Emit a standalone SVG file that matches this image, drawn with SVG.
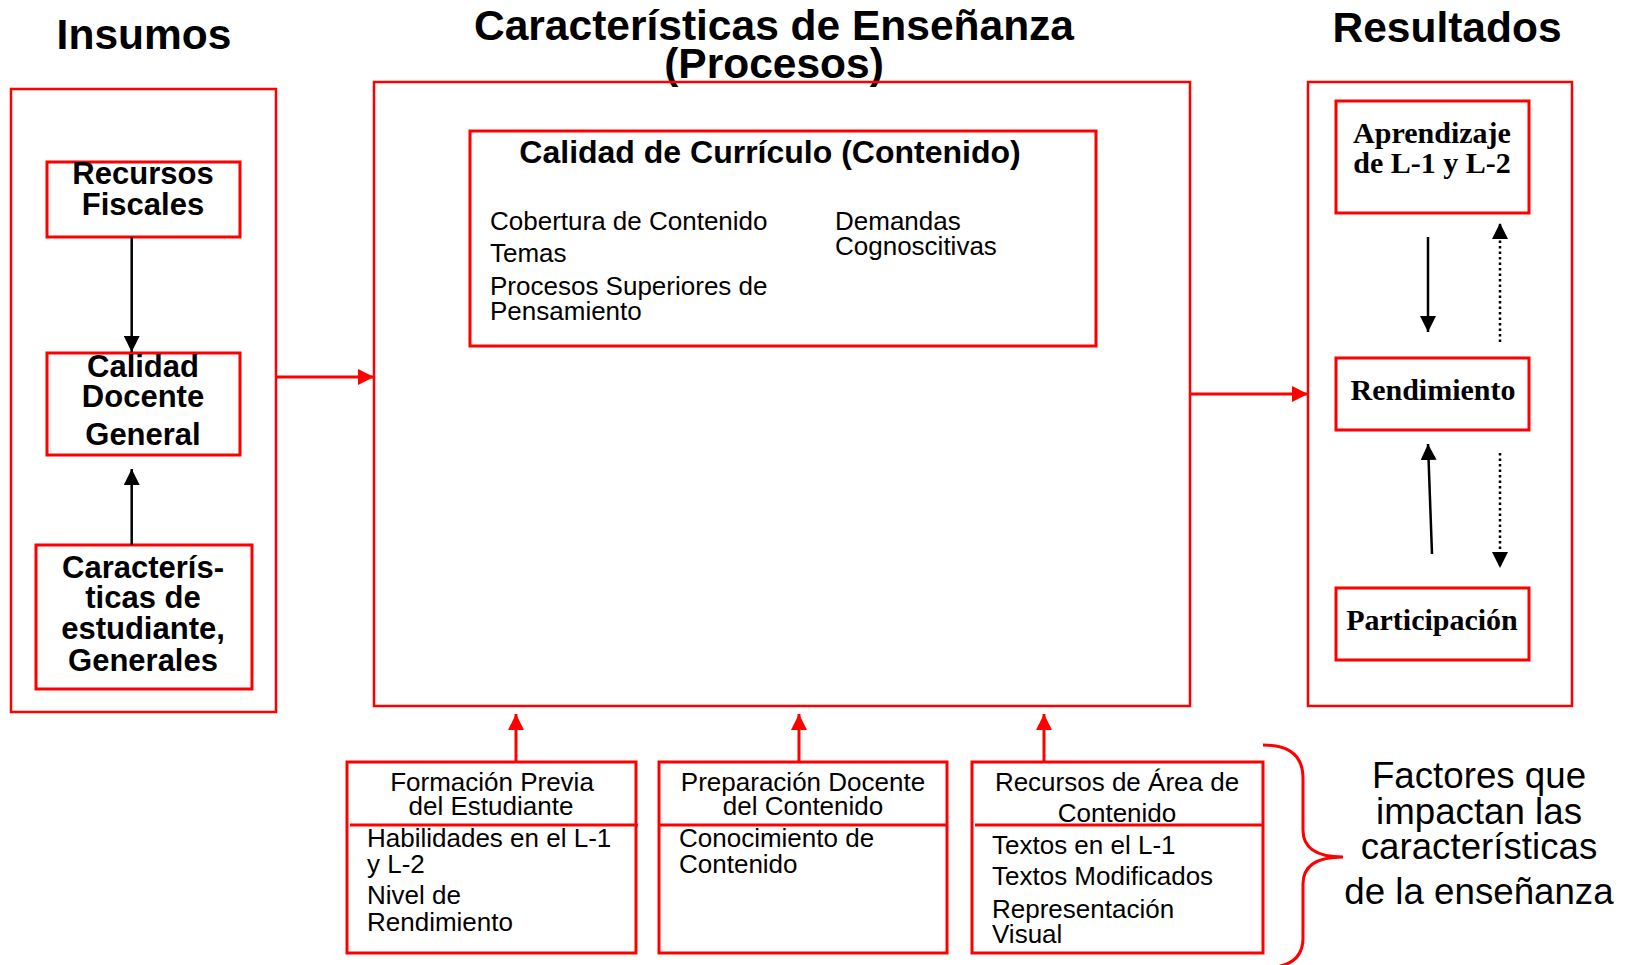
<svg xmlns="http://www.w3.org/2000/svg" width="1627" height="965" viewBox="0 0 1627 965">
<defs>
<style>
.box{fill:none;stroke:#FF0000;stroke-width:3}
.outer{fill:none;stroke:#FF0000;stroke-width:2.5}
.div{stroke:#FF0000;stroke-width:3}
text{font-family:"Liberation Sans",Arial,sans-serif;fill:#000}
.title{font-size:42.5px;font-weight:bold;text-anchor:middle}
.hb{font-size:31px;font-weight:bold;text-anchor:middle}
.body{font-size:26px}
.mid{text-anchor:middle}
.serif{font-family:"Liberation Serif","Times New Roman",serif;font-size:30px;font-weight:bold;text-anchor:middle}
.fact{font-size:36.7px;text-anchor:middle}
.red{stroke:#FF0000;stroke-width:3;fill:none}
.blk{stroke:#000;stroke-width:2.5;fill:none}
.dot{stroke:#000;stroke-width:2.5;fill:none;stroke-dasharray:2.5 3}
</style>
<marker id="ab" markerUnits="userSpaceOnUse" markerWidth="16" markerHeight="16" viewBox="0 0 15 15" refX="15" refY="7.5" orient="auto">
<path d="M0,0 L15,7.5 L0,15 Z" fill="#000"/>
</marker>
<marker id="ar" markerUnits="userSpaceOnUse" markerWidth="16" markerHeight="16" viewBox="0 0 15 15" refX="15" refY="7.5" orient="auto">
<path d="M0,0 L15,7.5 L0,15 Z" fill="#FF0000"/>
</marker>
</defs>
<rect width="1627" height="965" fill="#fff"/>

<g id="titles">
<text class="title" x="144" y="49">Insumos</text>
<text class="title" x="774" y="40">Características de Enseñanza</text>
<text class="title" x="774" y="78">(Procesos)</text>
<text class="title" x="1447" y="42">Resultados</text>
</g>

<g id="insumos">
<rect class="outer" x="11" y="89" width="265" height="623"/>
</g>
<g id="recursos-fiscales">
<rect class="box" x="47" y="162" width="193" height="75"/>
<text class="hb" x="143" y="184">Recursos</text>
<text class="hb" x="143" y="215">Fiscales</text>
</g>
<g id="calidad-docente">
<rect class="box" x="47" y="353" width="193" height="102"/>
<text class="hb" x="143" y="377">Calidad</text>
<text class="hb" x="143" y="407">Docente</text>
<text class="hb" x="143" y="445">General</text>
</g>
<g id="caracteristicas-estudiante">
<rect class="box" x="36" y="545" width="216" height="144"/>
<text class="hb" x="143" y="578">Caracterís-</text>
<text class="hb" x="143" y="608">ticas de</text>
<text class="hb" x="143" y="639">estudiante,</text>
<text class="hb" x="143" y="671">Generales</text>
</g>

<g id="procesos">
<rect class="outer" x="374" y="82" width="816" height="624"/>
</g>
<g id="calidad-curriculo">
<rect class="box" x="470" y="131" width="626" height="215"/>
<text x="770" y="163" style="font-size:32px;font-weight:bold;text-anchor:middle">Calidad de Currículo (Contenido)</text>
<text class="body" x="490" y="230">Cobertura de Contenido</text>
<text class="body" x="490" y="262">Temas</text>
<text class="body" x="490" y="295">Procesos Superiores de</text>
<text class="body" x="490" y="320">Pensamiento</text>
<text class="body" x="835" y="230">Demandas</text>
<text class="body" x="835" y="255">Cognoscitivas</text>
</g>

<g id="resultados">
<rect class="outer" x="1308" y="82" width="264" height="624"/>
</g>
<g id="aprendizaje">
<rect class="box" x="1336" y="101" width="193" height="112"/>
<text class="serif" x="1432" y="143">Aprendizaje</text>
<text class="serif" x="1432" y="173">de L-1 y L-2</text>
</g>
<g id="rendimiento">
<rect class="box" x="1336" y="358" width="193" height="72"/>
<text class="serif" x="1433" y="400">Rendimiento</text>
</g>
<g id="participacion">
<rect class="box" x="1336" y="588" width="193" height="72"/>
<text class="serif" x="1432" y="630">Participación</text>
</g>

<g id="formacion-previa">
<rect class="box" x="347" y="762" width="289" height="191"/>
<line class="div" x1="350" y1="825" x2="638" y2="825"/>
<text class="body mid" x="492" y="791">Formación Previa</text>
<text class="body mid" x="491" y="815">del Estudiante</text>
<text class="body" x="367" y="847">Habilidades en el L-1</text>
<text class="body" x="367" y="873">y L-2</text>
<text class="body" x="367" y="904">Nivel de</text>
<text class="body" x="367" y="931">Rendimiento</text>
</g>
<g id="preparacion-docente">
<rect class="box" x="659" y="762" width="288" height="191"/>
<line class="div" x1="659" y1="825" x2="947" y2="825"/>
<text class="body mid" x="803" y="791">Preparación Docente</text>
<text class="body mid" x="803" y="815">del Contenido</text>
<text class="body" x="679" y="847">Conocimiento de</text>
<text class="body" x="679" y="873">Contenido</text>
</g>
<g id="recursos-area">
<rect class="box" x="972" y="762" width="291" height="191"/>
<line class="div" x1="975" y1="825" x2="1263" y2="825"/>
<text class="body mid" x="1117" y="791">Recursos de Área de</text>
<text class="body mid" x="1117" y="822">Contenido</text>
<text class="body" x="992" y="854">Textos en el L-1</text>
<text class="body" x="992" y="885">Textos Modificados</text>
<text class="body" x="992" y="918">Representación</text>
<text class="body" x="992" y="943">Visual</text>
</g>

<g id="factores">
<path class="red" d="M1263,745 Q1303,745 1303,778 L1303,830 Q1303,857 1343,857 Q1303,857 1303,884 L1303,938 Q1303,968 1263,968"/>
<text class="fact" x="1479" y="788">Factores que</text>
<text class="fact" x="1479" y="824">impactan las</text>
<text class="fact" x="1479" y="859">características</text>
<text class="fact" x="1479" y="904">de la enseñanza</text>
</g>

<g id="connectors">
<line class="blk" x1="131.7" y1="237" x2="131.7" y2="352" marker-end="url(#ab)"/>
<line class="blk" x1="131.7" y1="545" x2="131.7" y2="469" marker-end="url(#ab)"/>
<line class="red" x1="276" y1="377" x2="374" y2="377" marker-end="url(#ar)"/>
<line class="red" x1="1190" y1="394" x2="1308" y2="394" marker-end="url(#ar)"/>
<line class="red" x1="516" y1="762" x2="516" y2="714" marker-end="url(#ar)"/>
<line class="red" x1="799" y1="762" x2="799" y2="714" marker-end="url(#ar)"/>
<line class="red" x1="1044" y1="762" x2="1044" y2="714" marker-end="url(#ar)"/>
<line class="blk" x1="1428" y1="237" x2="1428" y2="332" marker-end="url(#ab)"/>
<line class="dot" x1="1500" y1="342" x2="1500" y2="223" marker-end="url(#ab)"/>
<line class="blk" x1="1432" y1="554" x2="1428" y2="444" marker-end="url(#ab)"/>
<line class="dot" x1="1500" y1="453" x2="1500" y2="568" marker-end="url(#ab)"/>
</g>
</svg>
